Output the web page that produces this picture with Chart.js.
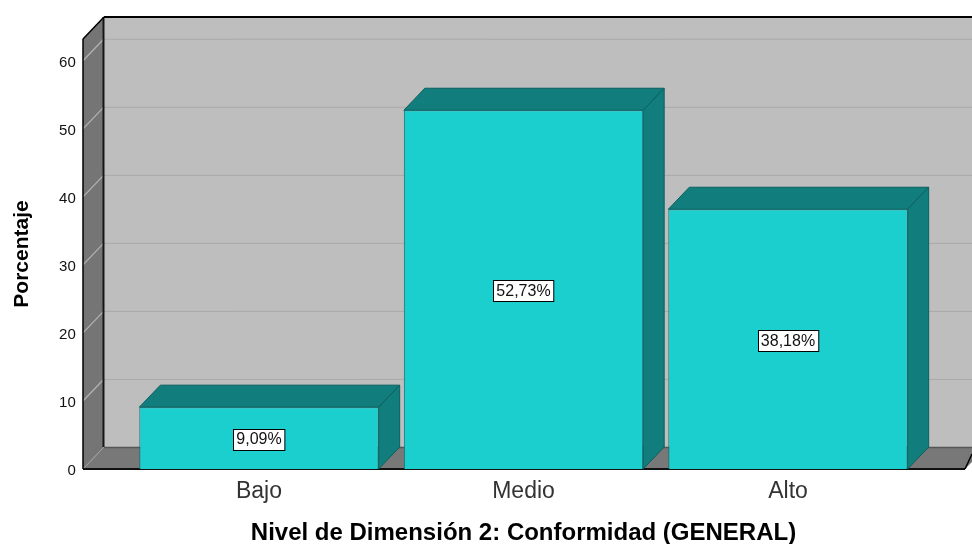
<!DOCTYPE html>
<html>
<head>
<meta charset="utf-8">
<style>html,body{margin:0;padding:0;background:#fff}canvas{display:block}</style>
<script src="https://cdn.jsdelivr.net/npm/chart.js@4"></script>
</head>
<body>
<canvas id="c" width="972" height="544"></canvas>
<script>
const categories = ["Bajo", "Medio", "Alto"];
const percentages = [9.09, 52.73, 38.18];
const yTickValues = [0, 10, 20, 30, 40, 50, 60];
const xTitle = "Nivel de Dimensión 2: Conformidad (GENERAL)";
const yTitle = "Porcentaje";

const DX = 21, DY = 22, WALL_LEFT = 83, FLOOR_RIGHT = 965;

function poly(ctx, pts, fill, stroke, lw) {
  ctx.beginPath();
  pts.forEach((p, i) => i ? ctx.lineTo(p[0], p[1]) : ctx.moveTo(p[0], p[1]));
  ctx.closePath();
  if (fill) { ctx.fillStyle = fill; ctx.fill(); }
  if (stroke) { ctx.strokeStyle = stroke; ctx.lineWidth = lw || 1; ctx.stroke(); }
}
function line(ctx, x1, y1, x2, y2, c, w) {
  ctx.beginPath(); ctx.moveTo(x1, y1); ctx.lineTo(x2, y2);
  ctx.strokeStyle = c; ctx.lineWidth = w || 1; ctx.stroke();
}

const scene3d = {
  id: "scene3d",
  beforeDatasetsDraw(chart) {
    const ctx = chart.ctx, y = chart.scales.y, W = chart.width;
    const top = chart.chartArea.top, base = y.getPixelForValue(0);
    const L = WALL_LEFT, BL = L + DX;
    ctx.save();
    poly(ctx, [[BL, top - DY], [W, top - DY], [W, base - DY], [BL, base - DY]], "#bebebe");
    poly(ctx, [[L, top], [BL, top - DY], [BL, base - DY], [L, base]], "#757575");
    poly(ctx, [[L, base], [BL, base - DY], [W, base - DY], [W, base - DY + 15], [FLOOR_RIGHT, base]], "#787878");
    yTickValues.forEach(v => {
      const p = y.getPixelForValue(v);
      if (v > 0) {
        line(ctx, BL, p - DY + .5, W, p - DY + .5, "#a9a9a9", 1);
        line(ctx, L, p, BL, p - DY, "#b4b4b4", 1.2);
      }
    });
    line(ctx, L, base, BL, base - DY, "#a0a0a0", 1);
    line(ctx, BL, base - DY + .5, W, base - DY + .5, "#555555", 1.5);
    line(ctx, BL - .5, top - DY, BL - .5, base - DY, "#161616", 2);
    line(ctx, BL, top - DY, W, top - DY, "#000000", 2);
    line(ctx, L, top, BL, top - DY, "#000000", 1.5);
    line(ctx, L, top, L, base, "#000000", 1.5);
    line(ctx, L, base, FLOOR_RIGHT, base, "#111111", 2);
    line(ctx, FLOOR_RIGHT, base, W, base - 15, "#000000", 1.5);
    chart.getDatasetMeta(0).data.forEach(b => {
      const l = b.x - b.width / 2, r = b.x + b.width / 2, t = b.y, bt = b.base;
      poly(ctx, [[l, t], [l + DX, t - DY], [r + DX, t - DY], [r, t]], "#117d7d", "#0c6060", 1);
      poly(ctx, [[r, t], [r + DX, t - DY], [r + DX, bt - DY], [r, bt]], "#117d7d", "#0c6060", 1);
    });
    ctx.restore();
  },
  afterDatasetsDraw(chart) {
    const ctx = chart.ctx;
    ctx.save();
    ctx.font = "16px 'Liberation Sans'";
    ctx.textAlign = "center";
    ctx.textBaseline = "middle";
    chart.getDatasetMeta(0).data.forEach((b, i) => {
      const s = percentages[i].toFixed(2).replace(".", ",") + "%";
      const w = ctx.measureText(s).width + 6, h = 21;
      const cy = (b.y + b.base) / 2 + 1;
      const x = Math.round(b.x - w / 2) + .5, yy = Math.round(cy - h / 2) + .5;
      ctx.fillStyle = "#fff";
      ctx.fillRect(x, yy, w, h);
      ctx.strokeStyle = "#000";
      ctx.lineWidth = 1;
      ctx.strokeRect(x, yy, w, h);
      ctx.fillStyle = "#111";
      ctx.fillText(s, b.x, cy + 1);
    });
    ctx.restore();
  }
};

new Chart(document.getElementById("c"), {
  type: "bar",
  data: {
    labels: categories,
    datasets: [{
      data: percentages,
      backgroundColor: "#1ccfcf",
      borderColor: "#0c6e6e",
      borderWidth: 1,
      barPercentage: 0.905,
      categoryPercentage: 1
    }]
  },
  options: {
    responsive: false,
    animation: false,
    events: [],
    layout: { padding: { top: 39, right: 51.75, left: 0, bottom: 0 } },
    plugins: { legend: { display: false }, tooltip: { enabled: false } },
    scales: {
      x: {
        grid: { display: false, drawTicks: false },
        border: { display: false },
        ticks: { color: "#333", font: { family: "Liberation Sans", size: 23 }, padding: 9 },
        title: { display: true, text: xTitle, color: "#000",
                 font: { family: "Liberation Sans", size: 24, weight: "bold", lineHeight: 1 }, padding: { top: 12, bottom: -1 } },
        afterFit(s) { s.height = 75; }
      },
      y: {
        min: 0,
        max: 63.2,
        grid: { display: false, drawTicks: false },
        border: { display: false },
        ticks: { stepSize: 10, includeBounds: false, color: "#111", labelOffset: 2,
                 font: { family: "Liberation Sans", size: 15 }, padding: 51 },
        title: { display: true, text: yTitle, color: "#000",
                 font: { family: "Liberation Sans", size: 21, weight: "bold", lineHeight: 1 }, padding: { top: 12, bottom: 0 } },
        afterFit(s) { s.width = 126.75; s.paddingTop = 0; s.paddingBottom = 0; }
      }
    }
  },
  plugins: [scene3d]
});
</script>
</body>
</html>
